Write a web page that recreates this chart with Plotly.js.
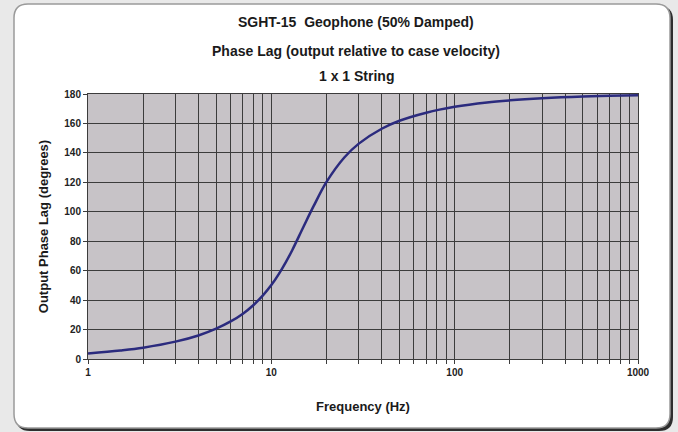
<!DOCTYPE html>
<html>
<head>
<meta charset="utf-8">
<script src="https://cdn.plot.ly/plotly-3.0.1.min.js"></script>
<style>html,body{margin:0;padding:0;background:#e9e9e9;}#chart{width:678px;height:432px;}</style>
</head>
<body>
<div id="chart"></div>
<script>
// Frequency (Hz) and output phase lag (degrees)
var freq  = [1, 1.5, 2, 3, 4, 5, 6, 7, 8, 9, 10, 11, 12, 13, 15, 17, 20, 25, 30, 40, 50, 70, 100, 150, 200, 300, 500, 700, 1000];
var phase = [3.8, 5.8, 7.7, 11.8, 16.0, 20.6, 25.5, 30.8, 36.7, 43.2, 50.2, 57.8, 65.8, 73.9, 90.0, 103.8, 120.3, 136.9, 146.3, 156.4, 161.8, 167.3, 171.3, 174.3, 175.7, 177.1, 178.3, 178.8, 179.1];

var titleLines = ["SGHT-15  Geophone (50% Damped)", "Phase Lag (output relative to case velocity)", "1 x 1 String"];
var xTitle = "Frequency (Hz)";
var yTitle = "Output Phase Lag (degrees)";

var yTicks = [0, 20, 40, 60, 80, 100, 120, 140, 160, 180];

var xTickVals = [], xTickText = [];
for (var d = 0; d < 3; d++) {
  for (var m = 1; m <= 9; m++) {
    var v = Math.pow(10, d) * m;
    xTickVals.push(v);
    xTickText.push(m === 1 ? String(v) : "");
  }
}
xTickVals.push(1000); xTickText.push("1000");

// pixel -> paper helpers (plot area: x 88..638, y 94..359)
var L = 88, R = 638, T = 94, B = 359;
function px(x) { return (x - L) / (R - L); }
function py(y) { return (B - y) / (B - T); }
function roundRect(x0, y0, x1, y1, r) {
  var rx = r / (R - L), ry = r / (B - T);
  var a = px(x0), b = px(x1), c = py(y0), e = py(y1);
  return "M" + (a + rx) + "," + c +
    " L" + (b - rx) + "," + c + " Q" + b + "," + c + " " + b + "," + (c - ry) +
    " L" + b + "," + (e + ry) + " Q" + b + "," + e + " " + (b - rx) + "," + e +
    " L" + (a + rx) + "," + e + " Q" + a + "," + e + " " + a + "," + (e + ry) +
    " L" + a + "," + (c - ry) + " Q" + a + "," + c + " " + (a + rx) + "," + c + " Z";
}

var FONT = "Liberation Sans, Arial, sans-serif";
var titleY = [22, 51, 76];
var annotations = titleLines.map(function (t, i) {
  return {text: t, xref: "paper", yref: "paper", x: px(356), y: py(titleY[i]),
    xanchor: "center", yanchor: "middle", showarrow: false,
    font: {family: FONT, size: 14, color: "#1a1a1a", weight: "bold"}};
});

var trace = {
  x: freq, y: phase, type: "scatter", mode: "lines",
  line: {color: "#2b2b7e", width: 2.5, shape: "spline", smoothing: 1},
  hoverinfo: "x+y"
};

var tickFont = {family: FONT, size: 10, color: "#222", weight: "bold"};
var layout = {
  width: 678, height: 432,
  margin: {l: L, r: 678 - R, t: T, b: 432 - B, pad: 0},
  paper_bgcolor: "#e9e9e9",
  plot_bgcolor: "rgba(0,0,0,0)",
  showlegend: false,
  annotations: annotations,
  shapes: [
    {type: "path", xref: "paper", yref: "paper", path: roundRect(16, 6, 673, 431, 14), fillcolor: "#2e2e2e", line: {width: 0}, layer: "below"},
    {type: "path", xref: "paper", yref: "paper", path: roundRect(14, 4, 670, 428, 14), fillcolor: "#ffffff", line: {color: "#9a9a9a", width: 1.5}, layer: "below"},
    {type: "rect", xref: "paper", yref: "paper", x0: 0, x1: 1, y0: 0, y1: 1, fillcolor: "#c7c3c7", line: {width: 0}, layer: "below"}
  ],
  xaxis: {
    type: "log", range: [0, 3], tickmode: "array", tickvals: xTickVals, ticktext: xTickText,
    showgrid: true, gridcolor: "#3c3c3c", gridwidth: 1,
    ticks: "outside", ticklen: 4, tickcolor: "#3c3c3c",
    showline: true, linecolor: "#3c3c3c", linewidth: 1, mirror: true,
    zeroline: false, tickfont: tickFont,
    title: {text: xTitle, standoff: 24, font: {family: FONT, size: 13, color: "#1a1a1a", weight: "bold"}}
  },
  yaxis: {
    range: [0, 180], tickmode: "array", tickvals: yTicks,
    showgrid: true, gridcolor: "#3c3c3c", gridwidth: 1,
    ticks: "outside", ticklen: 4, tickcolor: "#3c3c3c",
    showline: true, linecolor: "#3c3c3c", linewidth: 1, mirror: true,
    zeroline: false, tickfont: tickFont,
    title: {text: yTitle, standoff: 12, font: {family: FONT, size: 13, color: "#1a1a1a", weight: "bold"}}
  }
};

Plotly.newPlot("chart", [trace], layout, {displayModeBar: false, staticPlot: true});
</script>
</body>
</html>
